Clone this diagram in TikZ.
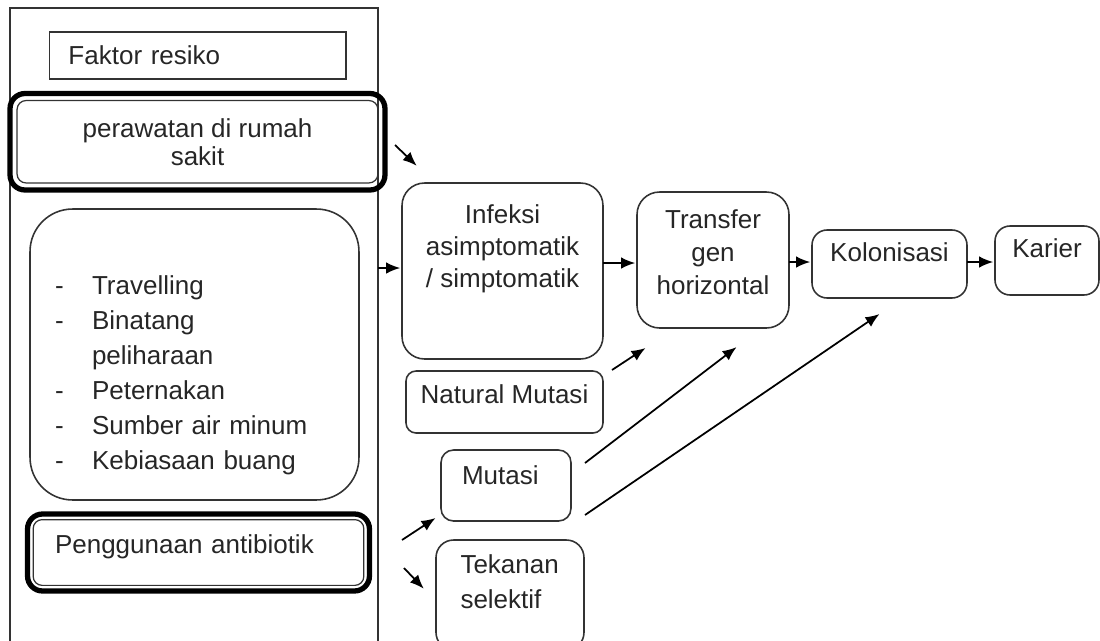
\documentclass[tikz,border=0pt]{standalone}
\usepackage{fontspec}
\setmainfont{Liberation Sans}
\usetikzlibrary{arrows.meta}
\newcommand{\lifted}[3]{\raisebox{#1}[\height][\depth]{\begin{tabular}{@{}#2@{}}#3\end{tabular}}}

\begin{document}
\begin{tikzpicture}[x=0.02cm,y=-0.02cm,shorten >=1pt,
	every node/.style={font=\fontsize{14.8}{17.5}\selectfont,text=black!85},
	plain node/.style={draw=black!80,line width=0.9pt,outer sep=0pt},
	box node/.style={plain node,rounded corners=0.3cm},
	heavy node/.style={draw=black,line width=3pt,rounded corners=0.3cm,outer sep=0pt},
	inner line/.style={draw=black!80,line width=0.7pt,rounded corners=0.18cm},
	arrow/.style={every edge/.style={draw,line width=1pt,-{Latex[length=8pt,width=6.5pt]}}}]
	
	\useasboundingbox (0,0) rectangle (1100,640);
	
	% faktor resiko
	\node[plain node] (frame) [minimum width=7.36cm,minimum height=12.8cm] at (194,328) {};
	\node[plain node] (risk) [minimum width=5.93cm,minimum height=0.95cm,text width=5.17cm,align=left,inner xsep=0.38cm] at (197.7,55.5) {Faktor resiko};
	\node[heavy node] (care) [minimum width=7.5cm,minimum height=1.93cm,align=center] at (197.5,141.75) {perawatan di rumah\\[-1.6pt]sakit};
	\draw[inner line] ([shift={(4pt,-4pt)}]care.north west) rectangle ([shift={(-4pt,4pt)}]care.south east);
	\node[box node] (habits) [rounded corners=0.85cm,minimum width=6.58cm,minimum height=5.82cm,text width=5.58cm,align=left,inner xsep=0.5cm] at (194.5,354.5)
	{\renewcommand{\arraystretch}{1.14}\lifted{-0.41cm}{p{0.74cm}@{}l}{-&Travelling\\-&Binatang\\&peliharaan\\-&Peternakan\\-&Sumber air minum\\-&Kebiasaan buang}};
	\node[heavy node] (use) [minimum width=6.84cm,minimum height=1.54cm,text width=5.74cm,align=left,inner xsep=0.55cm] at (198.5,552.5) {\lifted{0.11cm}{l}{Penggunaan antibiotik}};
	\draw[inner line] ([shift={(3.2pt,-3.2pt)}]use.north west) rectangle ([shift={(-3.2pt,3.2pt)}]use.south east);
	
	% alur
	\node[box node] (infect) [rounded corners=0.45cm,minimum width=4.02cm,minimum height=3.52cm] at (502.5,271) {\renewcommand{\arraystretch}{1.04}\lifted{0.43cm}{c}{Infeksi\\asimptomatik\\/ simptomatik}};
	\node[box node] (natural) [rounded corners=0.2cm,minimum width=3.94cm,minimum height=1.24cm] at (504.5,402) {\lifted{0.1cm}{c}{Natural Mutasi}};
	\node[box node] (mutation) [rounded corners=0.25cm,minimum width=2.6cm,minimum height=1.42cm,text width=1.76cm,align=left,inner xsep=0.42cm] at (506,485.5) {\lifted{0.14cm}{l}{Mutasi}};
	\node[box node] (pressure) [rounded corners=0.35cm,minimum width=2.96cm,minimum height=2.2cm,text width=1.98cm,align=left,inner xsep=0.49cm] at (510,595) {\renewcommand{\arraystretch}{1.14}\lifted{0.22cm}{l}{Tekanan\\selektif}};
	\node[box node] (transfer) [rounded corners=0.45cm,minimum width=3.04cm,minimum height=2.72cm] at (713,260) {\renewcommand{\arraystretch}{1.07}\lifted{0.1cm}{c}{Transfer\\gen\\horizontal}};
	\node[box node] (colon) [minimum width=3.1cm,minimum height=1.36cm] at (889.5,264) {\lifted{0.18cm}{c}{Kolonisasi}};
	\node[box node] (carrier) [minimum width=2.08cm,minimum height=1.38cm] at (1047,260.5) {\lifted{0.18cm}{c}{Karier}};
	
	% ujung panah yang lepas
	\coordinate (c1) at (395,145);
	\coordinate (c2) at (418,167);
	\coordinate (m1) at (612,370);
	\coordinate (m2) at (647,347);
	\coordinate (m3) at (585,463);
	\coordinate (m4) at (738,346);
	\coordinate (m5) at (585,515);
	\coordinate (m6) at (881,313);
	\coordinate (u1) at (402,540);
	\coordinate (u2) at (437,517);
	\coordinate (u3) at (404,568);
	\coordinate (u4) at (425,590);
	
	\path[arrow]
	(c1) edge (c2)
	(frame.east |- 0,268) edge (infect.west |- 0,268)
	(infect.east |- 0,263) edge (transfer.west |- 0,263)
	(transfer.east |- 0,262) edge (colon.west |- 0,262)
	(colon.east |- 0,262) edge (carrier.west |- 0,262)
	(m1) edge (m2)
	(m3) edge (m4)
	(m5) edge (m6)
	(u1) edge (u2)
	(u3) edge (u4)
	;
\end{tikzpicture}
\end{document}
